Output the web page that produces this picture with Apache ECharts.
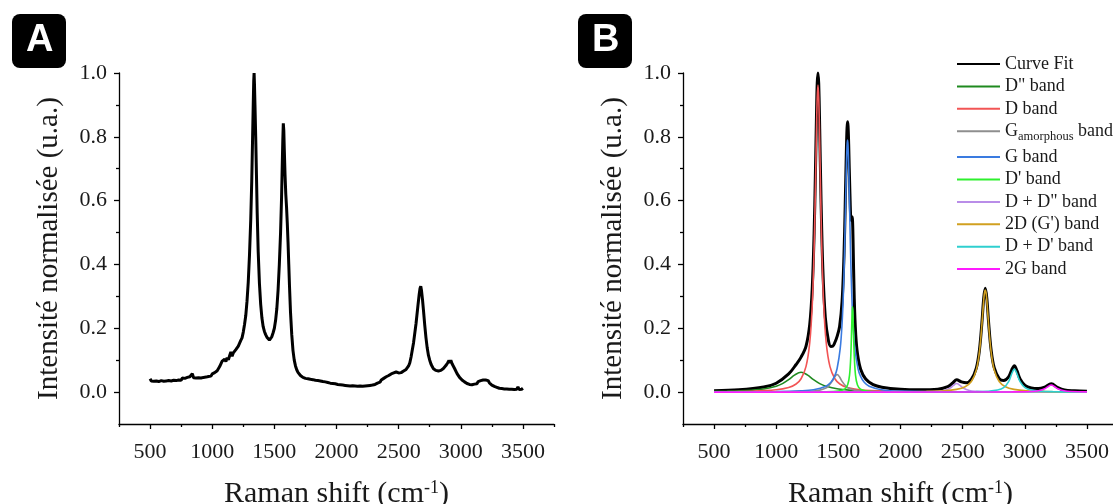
<!DOCTYPE html>
<html><head><meta charset="utf-8">
<script src="https://cdn.jsdelivr.net/npm/echarts@6/dist/echarts.min.js"></script>
<style>html,body{margin:0;padding:0;background:#fff}#c{width:1113px;height:504px}</style>
</head><body><div id="c"></div>
<script>
// ---------- tick values ----------
const xTicks = [500, 1000, 1500, 2000, 2500, 3000, 3500];
const xMinorTicks = [250, 750, 1250, 1750, 2250, 2750, 3250, 3750];
const yTicks = [0, 0.2, 0.4, 0.6, 0.8, 1.0];
const yMinorTicks = [0.1, 0.3, 0.5, 0.7, 0.9];

// ---------- panel A : measured spectrum [shift, intensity] ----------
const specA = [
[500,0.042],[510,0.035],[520,0.040],[530,0.034],[540,0.039],[550,0.035],[560,0.038],[570,0.033],[580,0.039],[590,0.036],
[600,0.040],[610,0.034],[620,0.038],[630,0.035],[640,0.041],[650,0.036],[660,0.039],[670,0.035],[680,0.041],[690,0.037],
[700,0.042],[710,0.036],[720,0.041],[730,0.038],[740,0.043],[750,0.037],[760,0.044],[770,0.039],[780,0.043],[790,0.040],
[800,0.046],[810,0.041],[820,0.048],[830,0.043],[840,0.058],[850,0.045],[860,0.050],[870,0.044],[880,0.049],[890,0.045],
[900,0.050],[910,0.044],[920,0.049],[930,0.046],[940,0.052],[950,0.047],[960,0.053],[970,0.049],[980,0.054],[990,0.050],
[1000,0.057],[1010,0.053],[1020,0.061],[1030,0.060],[1040,0.067],[1050,0.070],[1060,0.080],[1070,0.086],[1080,0.097],[1090,0.091],
[1100,0.103],[1110,0.096],[1120,0.108],[1130,0.101],[1140,0.114],[1150,0.126],[1160,0.112],[1170,0.123],[1180,0.125],[1190,0.133],
[1200,0.136],[1210,0.144],[1220,0.149],[1230,0.162],[1240,0.170],[1250,0.188],
[1260,0.212],[1270,0.240],[1280,0.285],[1290,0.345],[1300,0.430],[1310,0.540],[1318,0.660],[1325,0.800],[1330,0.900],[1334,0.975],
[1337,1.000],[1340,0.965],[1344,0.900],[1350,0.800],[1356,0.680],[1362,0.560],[1370,0.440],[1380,0.340],[1390,0.275],[1400,0.232],
[1410,0.205],[1420,0.190],[1430,0.180],[1440,0.172],[1450,0.166],[1460,0.163],[1470,0.168],[1480,0.174],[1490,0.186],[1500,0.200],
[1510,0.225],[1520,0.262],[1530,0.320],[1540,0.400],[1550,0.500],[1558,0.610],[1564,0.720],[1568,0.790],[1572,0.842],[1576,0.820],
[1580,0.760],[1586,0.680],[1592,0.620],[1598,0.580],[1604,0.530],[1610,0.470],[1616,0.400],[1622,0.330],[1630,0.250],[1640,0.180],
[1650,0.130],[1660,0.100],[1670,0.082],[1680,0.070],[1690,0.062],
[1700,0.058],[1710,0.052],[1720,0.051],[1730,0.046],[1740,0.048],[1750,0.043],[1760,0.048],[1770,0.042],[1780,0.045],[1790,0.040],
[1800,0.045],[1810,0.039],[1820,0.042],[1830,0.037],[1840,0.042],[1850,0.036],[1860,0.040],[1870,0.035],[1880,0.040],[1890,0.033],
[1900,0.037],[1910,0.032],[1920,0.035],[1930,0.030],[1940,0.034],[1950,0.028],[1960,0.032],[1970,0.027],[1980,0.031],[1990,0.026],
[2000,0.030],[2010,0.024],[2020,0.028],[2030,0.023],[2040,0.027],[2050,0.022],[2060,0.026],[2070,0.021],[2080,0.026],[2090,0.020],
[2100,0.025],[2110,0.019],[2120,0.024],[2130,0.020],[2140,0.025],[2150,0.019],[2160,0.024],[2170,0.018],[2180,0.023],[2190,0.019],
[2200,0.024],[2210,0.018],[2220,0.023],[2230,0.019],[2240,0.025],[2250,0.020],[2260,0.024],[2270,0.021],[2280,0.026],[2290,0.022],
[2300,0.027],[2310,0.024],[2320,0.030],[2330,0.028],[2340,0.034],[2350,0.031],[2360,0.038],[2370,0.036],[2380,0.043],[2390,0.040],
[2400,0.048],[2410,0.044],[2420,0.052],[2430,0.049],[2440,0.057],[2450,0.053],[2460,0.060],[2470,0.056],[2480,0.063],[2490,0.057],
[2500,0.060],[2510,0.055],[2520,0.061],[2530,0.058],[2540,0.066],[2550,0.064],[2560,0.071],[2570,0.073],[2580,0.082],[2590,0.092],
[2600,0.110],[2620,0.155],[2640,0.215],[2655,0.270],[2665,0.305],[2672,0.325],[2678,0.332],[2684,0.318],[2692,0.290],
[2700,0.255],[2710,0.210],[2720,0.170],[2730,0.138],[2740,0.115],[2750,0.100],[2760,0.088],[2770,0.080],[2780,0.073],[2790,0.070],
[2800,0.068],[2810,0.063],[2820,0.066],[2830,0.062],[2840,0.068],[2850,0.067],[2860,0.074],[2870,0.075],[2880,0.083],[2890,0.086],
[2895,0.092],[2905,0.099],[2912,0.091],[2920,0.100],[2930,0.089],[2940,0.084],[2950,0.074],[2960,0.068],[2970,0.058],[2980,0.054],[2990,0.046],
[3000,0.045],[3010,0.038],[3020,0.039],[3030,0.032],[3040,0.033],[3050,0.027],[3060,0.030],[3070,0.024],[3080,0.028],[3090,0.023],
[3100,0.029],[3110,0.025],[3120,0.030],[3130,0.026],[3140,0.033],[3150,0.029],[3160,0.036],[3170,0.032],[3180,0.038],[3190,0.034],
[3200,0.038],[3210,0.033],[3220,0.036],[3230,0.029],[3240,0.030],[3250,0.022],[3260,0.024],[3270,0.018],[3280,0.020],[3290,0.015],
[3300,0.018],[3310,0.012],[3320,0.016],[3330,0.011],[3340,0.015],[3350,0.010],[3360,0.014],[3370,0.010],[3380,0.015],[3390,0.009],
[3400,0.014],[3410,0.009],[3420,0.013],[3430,0.008],[3440,0.014],[3450,0.009],[3460,0.016],[3470,0.008],[3480,0.013],[3490,0.009],[3500,0.012]
];

// ---------- panel B : fitted curve and bands [shift, intensity] ----------
const fitB = [
[500,0.0040],[700,0.0070],[900,0.0158],[1000,0.0278],[1100,0.0568],[1160,0.0865],[1200,0.1097],[1240,0.1444],[1270,0.2130],[1290,0.3262],
[1305,0.4985],[1315,0.6789],[1325,0.8874],[1330,0.9684],[1336,1.0000],[1342,0.9670],[1350,0.8248],[1360,0.6150],[1375,0.3870],[1395,0.2345],
[1420,0.1616],[1440,0.1431],[1455,0.1438],[1470,0.1538],[1490,0.1748],[1510,0.2055],[1530,0.2842],[1545,0.4254],[1555,0.5833],[1565,0.7652],
[1570,0.8283],[1574,0.8470],[1578,0.8333],[1583,0.7777],[1593,0.6231],[1603,0.5381],[1610,0.5493],[1614,0.5381],[1618,0.4794],[1628,0.2922],
[1640,0.1790],[1655,0.1171],[1680,0.0710],[1720,0.0409],[1780,0.0232],[1850,0.0153],[2000,0.0089],[2150,0.0071],[2300,0.0091],[2380,0.0168],
[2420,0.0286],[2452,0.0384],[2490,0.0321],[2530,0.0295],[2570,0.0401],[2610,0.0752],[2635,0.1316],[2655,0.2177],[2670,0.2961],[2682,0.3251],
[2694,0.2962],[2709,0.2180],[2729,0.1323],[2754,0.0764],[2794,0.0424],[2830,0.0362],[2870,0.0477],[2895,0.0698],[2916,0.0826],[2937,0.0670],
[2962,0.0410],[3002,0.0212],[3052,0.0130],[3110,0.0112],[3160,0.0158],[3213,0.0262],[3266,0.0139],[3320,0.0063],[3400,0.0040],[3500,0.0028]
];
const bandDpp = [
[500,0.0021],[600,0.0028],[700,0.0039],[800,0.0059],[900,0.0098],[1000,0.0184],[1050,0.0266],[1100,0.0389],[1150,0.0540],[1200,0.0620],
[1250,0.0540],[1300,0.0389],[1350,0.0266],[1400,0.0184],[1500,0.0098],[1600,0.0059],[1700,0.0039],[1900,0.0021],[2200,0.0010],[2800,0.0004],[3500,0.0002]
];
const bandD = [
[500,0.0012],[800,0.0028],[1000,0.0071],[1100,0.0143],[1160,0.0254],[1200,0.0418],[1240,0.0804],[1270,0.1557],[1290,0.2736],[1305,0.4490],
[1315,0.6310],[1325,0.8410],[1330,0.9225],[1336,0.9620],[1342,0.9225],[1347,0.8410],[1357,0.6310],[1367,0.4490],[1382,0.2736],[1402,0.1557],
[1432,0.0804],[1472,0.0418],[1512,0.0254],[1572,0.0143],[1672,0.0071],[1872,0.0028],[2200,0.0011],[2800,0.0004],[3500,0.0002]
];
const bandGam = [
[500,0.0001],[1000,0.0006],[1200,0.0016],[1300,0.0036],[1350,0.0062],[1400,0.0130],[1420,0.0186],[1450,0.0335],[1470,0.0474],[1490,0.0550],
[1510,0.0474],[1530,0.0335],[1560,0.0186],[1580,0.0130],[1630,0.0062],[1680,0.0036],[1780,0.0016],[2000,0.0005],[3500,0.0000]
];
const bandG = [
[500,0.0005],[1000,0.0017],[1200,0.0041],[1300,0.0076],[1400,0.0186],[1440,0.0308],[1470,0.0499],[1490,0.0740],[1515,0.1368],[1530,0.2161],
[1540,0.3055],[1550,0.4413],[1560,0.6226],[1565,0.7110],[1570,0.7730],[1574,0.7900],[1578,0.7730],[1583,0.7110],[1588,0.6226],[1598,0.4413],
[1608,0.3055],[1618,0.2161],[1633,0.1368],[1658,0.0740],[1678,0.0499],[1708,0.0308],[1748,0.0186],[1848,0.0076],[2000,0.0032],[2500,0.0007],[3500,0.0002]
];
const bandDp = [
[500,0.0000],[1400,0.0008],[1500,0.0029],[1550,0.0091],[1575,0.0231],[1590,0.0534],[1600,0.1131],[1607,0.1993],[1611,0.2513],[1614,0.2670],
[1617,0.2513],[1621,0.1993],[1628,0.1131],[1638,0.0534],[1653,0.0231],[1678,0.0091],[1728,0.0029],[1828,0.0008],[2500,0.0000],[3500,0.0000]
];
const bandDDpp = [
[500,0.0000],[2000,0.0003],[2200,0.0010],[2300,0.0026],[2350,0.0052],[2400,0.0130],[2425,0.0209],[2452,0.0270],[2479,0.0209],[2504,0.0130],
[2554,0.0052],[2604,0.0026],[2704,0.0010],[2904,0.0003],[3500,0.0001]
];
const band2D = [
[500,0.0001],[1500,0.0003],[2000,0.0010],[2200,0.0020],[2350,0.0041],[2450,0.0084],[2520,0.0167],[2570,0.0330],[2610,0.0697],[2635,0.1265],
[2655,0.2126],[2670,0.2910],[2676,0.3122],[2682,0.3200],[2688,0.3122],[2694,0.2910],[2709,0.2126],[2729,0.1265],[2754,0.0697],[2794,0.0330],
[2844,0.0167],[2914,0.0084],[3014,0.0041],[3164,0.0020],[3364,0.0010],[3500,0.0007]
];
const bandDDp = [
[500,0.0000],[2000,0.0002],[2400,0.0005],[2600,0.0013],[2700,0.0026],[2780,0.0063],[2830,0.0139],[2870,0.0327],[2895,0.0576],[2916,0.0720],
[2937,0.0576],[2962,0.0327],[3002,0.0139],[3052,0.0063],[3132,0.0026],[3232,0.0013],[3432,0.0005],[3500,0.0004]
];
const band2G = [
[500,0.0000],[2500,0.0001],[2900,0.0006],[3050,0.0019],[3110,0.0042],[3160,0.0104],[3185,0.0167],[3213,0.0220],[3241,0.0167],[3266,0.0104],
[3316,0.0042],[3376,0.0019],[3500,0.0007]
];

const bandNames = ['Curve Fit', 'D" band', 'D band', 'Gamorphous band', 'G band', "D' band", 'D + D" band', "2D (G') band", "D + D' band", '2G band'];
const bandData = [fitB, bandDpp, bandD, bandGam, bandG, bandDp, bandDDpp, band2D, bandDDp, band2G];
const bandColors = ['#000000', '#1f8a1f', '#f25555', '#8e8e8e', '#3a7be0', '#2ef02e', '#b98de8', '#d1a020', '#2fcfcf', '#ff1aff'];

const F = 'Liberation Serif';
const TXT = '#1a1a1a';

function xAxes(g) {
  return [{
    type: 'value', gridIndex: g, min: 250, max: 3750, position: 'bottom',
    axisLine: { show: true, onZero: false, lineStyle: { color: '#000', width: 1.3 } },
    axisTick: { show: true, customValues: xTicks, length: 5, lineStyle: { color: '#000', width: 1.3 } },
    axisLabel: { show: true, customValues: xTicks, margin: 17, fontSize: 22, fontFamily: F, color: TXT, formatter: v => String(v) },
    splitLine: { show: false },
    name: '{t|Raman shift (cm}{s|-1}{t|)}', nameLocation: 'middle', nameGap: 55,
    nameTextStyle: { rich: { t: { fontSize: 30, fontFamily: F, color: TXT }, s: { fontSize: 18, fontFamily: F, color: TXT, verticalAlign: 'top' } } }
  }, {
    type: 'value', gridIndex: g, min: 250, max: 3750, position: 'bottom',
    axisLine: { show: false, onZero: false },
    axisTick: { show: true, customValues: xMinorTicks, length: 3, lineStyle: { color: '#000', width: 1.3 } },
    axisLabel: { show: false }, splitLine: { show: false }
  }];
}
function yAxes(g) {
  return [{
    type: 'value', gridIndex: g, min: -0.1, max: 1.0, position: 'left',
    axisLine: { show: true, onZero: false, lineStyle: { color: '#000', width: 1.3 } },
    axisTick: { show: true, customValues: yTicks, length: 5, lineStyle: { color: '#000', width: 1.3 } },
    axisLabel: { show: true, customValues: yTicks, margin: 12, fontSize: 22, fontFamily: F, color: TXT, formatter: v => v.toFixed(1) },
    splitLine: { show: false },
    name: 'Intensité normalisée (u.a.)', nameLocation: 'middle', nameGap: 55,
    nameTextStyle: { fontSize: 29, fontFamily: F, color: TXT }
  }, {
    type: 'value', gridIndex: g, min: -0.1, max: 1.0, position: 'left',
    axisLine: { show: false, onZero: false },
    axisTick: { show: true, customValues: yMinorTicks, length: 3, lineStyle: { color: '#000', width: 1.3 } },
    axisLabel: { show: false }, splitLine: { show: false }
  }];
}

const series = [{
  name: 'spectrum', type: 'line', xAxisIndex: 0, yAxisIndex: 0, data: specA,
  showSymbol: false, symbol: 'none', clip: false,
  lineStyle: { color: '#000', width: 3 }, z: 3
}];
bandNames.forEach((n, i) => {
  series.push({
    name: n, type: 'line', xAxisIndex: 2, yAxisIndex: 2, data: bandData[i],
    symbol: 'none', showSymbol: false, smooth: 0.35, clip: false,
    itemStyle: { color: bandColors[i] },
    lineStyle: { color: bandColors[i], width: i === 0 ? 3 : 1.6 },
    z: 3 + i
  });
});

const chart = echarts.init(document.getElementById('c'), null, { renderer: 'canvas' });
chart.setOption({
  animation: false,
  backgroundColor: '#fff',
  grid: [
    { left: 119, top: 73, width: 435, height: 351, containLabel: false, outerBoundsMode: 'none' },
    { left: 683, top: 73, width: 435, height: 351, containLabel: false, outerBoundsMode: 'none' }
  ],
  xAxis: [...xAxes(0), ...xAxes(1)],
  yAxis: [...yAxes(0), ...yAxes(1)],
  legend: {
    show: true,
    data: bandNames, orient: 'vertical', left: 956, top: 55, padding: 0,
    itemWidth: 43, itemHeight: 14, itemGap: 4.4,
    itemStyle: { opacity: 0 },
    textStyle: {
      fontSize: 18, fontFamily: F, color: TXT,
      rich: {
        n: { fontSize: 18, fontFamily: F, color: TXT },
        sub: { fontSize: 12.5, fontFamily: F, color: TXT, verticalAlign: 'bottom', padding: [12, 0, 0, 0] }
      }
    },
    formatter: name => name === 'Gamorphous band' ? '{n|G}{sub|amorphous}{n| band}' : name
  },
  graphic: [
    { type: 'rect', left: 12, top: 14, shape: { width: 54, height: 54, r: 8 }, style: { fill: '#000' } },
    { type: 'text', left: 26, top: 22, style: { text: 'A', fill: '#fff', font: 'bold 38px "Liberation Sans"' } },
    { type: 'rect', left: 578, top: 14, shape: { width: 54, height: 54, r: 8 }, style: { fill: '#000' } },
    { type: 'text', left: 592, top: 22, style: { text: 'B', fill: '#fff', font: 'bold 38px "Liberation Sans"' } }
  ],
  series
});
</script>
</body></html>
